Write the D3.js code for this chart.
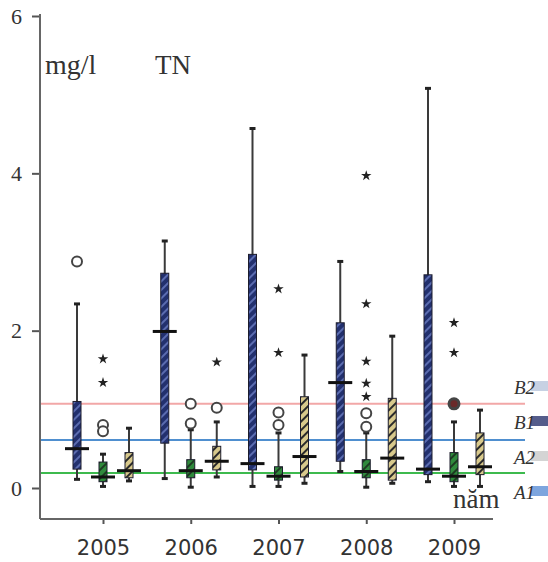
<!DOCTYPE html>
<html>
<head>
<meta charset="utf-8">
<script src="https://cdn.jsdelivr.net/npm/d3@7"></script>
<style>
  body { margin: 0; background: #fff; }
  svg { display: block; }
</style>
</head>
<body>
<svg id="tn-svg" width="548" height="562"></svg>
<script>
// years on the x axis
const years = ['2005', '2006', '2007', '2008', '2009'];
// three box series per year
const seriesNames = ['blue', 'green', 'yellow'];

// [lower whisker, q1, median, q3, upper whisker] in mg/l
const blueStats = [
    [0.11, 0.24, 0.50, 1.10, 2.34],
    [0.12, 0.57, 1.99, 2.73, 3.14],
    [0.02, 0.23, 0.31, 2.97, 4.57],
    [0.21, 0.34, 1.34, 2.10, 2.88],
    [0.08, 0.17, 0.24, 2.71, 5.08]
];
const greenStats = [
    [0.02, 0.08, 0.14, 0.33, 0.43],
    [0.01, 0.13, 0.22, 0.36, 0.74],
    [0.02, 0.10, 0.15, 0.27, 0.70],
    [0.01, 0.13, 0.21, 0.36, 0.70],
    [0.02, 0.08, 0.15, 0.45, 0.84]
];
const yellowStats = [
    [0.09, 0.13, 0.22, 0.45, 0.76],
    [0.14, 0.23, 0.34, 0.53, 0.84],
    [0.06, 0.14, 0.40, 1.16, 1.69],
    [0.06, 0.10, 0.38, 1.14, 1.93],
    [0.02, 0.17, 0.27, 0.70, 0.99]
];

// outliers: circles (o) and extremes (*)
const outliers = [
    {year: '2005', series: 'blue', value: 2.88, type: 'o'},
    {year: '2005', series: 'green', value: 0.80, type: 'o'},
    {year: '2005', series: 'green', value: 0.72, type: 'o'},
    {year: '2005', series: 'green', value: 1.64, type: '*'},
    {year: '2005', series: 'green', value: 1.34, type: '*'},
    {year: '2006', series: 'green', value: 1.07, type: 'o'},
    {year: '2006', series: 'green', value: 0.82, type: 'o'},
    {year: '2006', series: 'yellow', value: 1.60, type: '*'},
    {year: '2006', series: 'yellow', value: 1.02, type: 'o'},
    {year: '2007', series: 'green', value: 2.53, type: '*'},
    {year: '2007', series: 'green', value: 1.72, type: '*'},
    {year: '2007', series: 'green', value: 0.96, type: 'o'},
    {year: '2007', series: 'green', value: 0.80, type: 'o'},
    {year: '2008', series: 'green', value: 3.97, type: '*'},
    {year: '2008', series: 'green', value: 2.34, type: '*'},
    {year: '2008', series: 'green', value: 1.61, type: '*'},
    {year: '2008', series: 'green', value: 1.33, type: '*'},
    {year: '2008', series: 'green', value: 1.16, type: '*'},
    {year: '2008', series: 'green', value: 0.95, type: 'o'},
    {year: '2008', series: 'green', value: 0.78, type: 'o'},
    {year: '2009', series: 'green', value: 2.10, type: '*'},
    {year: '2009', series: 'green', value: 1.72, type: '*'},
    {year: '2009', series: 'green', value: 1.07, type: 'O'}
];

// standard lines
const limitValues = [1.07, 0.61, 0.19];
const limitColors = ['#f2a7a7', '#4f8fcf', '#3dba4e'];

// legend labels on the right
const legendLabels = ['B2', 'B1', 'A2', 'A1'];
const legendColors = ['#b9c6dc', '#2b356e', '#c9c9c9', '#5d8fd6'];

const yTicks = [0, 2, 4, 6];

const statsBySeries = {blue: blueStats, green: greenStats, yellow: yellowStats};

const svg = d3.select('#tn-svg');

// patterns for the box fills
const defs = svg.append('defs');
function hatch(id, base, stripe, w) {
    const p = defs.append('pattern')
        .attr('id', id)
        .attr('patternUnits', 'userSpaceOnUse')
        .attr('width', 6).attr('height', 6)
        .attr('patternTransform', 'rotate(45)');
    p.append('rect').attr('width', 6).attr('height', 6).attr('fill', base);
    p.append('rect').attr('width', w).attr('height', 6).attr('fill', stripe);
}
hatch('pat-blue', '#22306e', '#5b6cb0', 2);
hatch('pat-green', '#2f8a3c', '#1d3b22', 2);
hatch('pat-yellow', '#d8c98c', '#2a2a2a', 2);
const fills = {blue: 'url(#pat-blue)', green: 'url(#pat-green)', yellow: 'url(#pat-yellow)'};

// scales
const yScale = d3.scaleLinear().domain([0, 6]).range([488, 16]);
const xScale = d3.scalePoint().domain(years).range([103, 454]);
const sScale = d3.scalePoint().domain(seriesNames).range([-26, 26]);

const AXIS_X = 40, AXIS_Y = 519;

// reference lines
svg.append('g').selectAll('line')
    .data(limitValues)
    .enter()
    .append('line')
    .attr('x1', AXIS_X).attr('x2', 525)
    .attr('y1', (d) => yScale(d)).attr('y2', (d) => yScale(d))
    .attr('stroke', (d, i) => limitColors[i])
    .attr('stroke-width', 2);

// y axis ticks
const yAxis = svg.append('g')
    .attr('transform', `translate(${AXIS_X}, 0)`)
    .call(d3.axisLeft(yScale).tickValues(yTicks).tickSize(8).tickPadding(10).tickFormat(d3.format('d')));
yAxis.select('.domain').remove();
yAxis.selectAll('line').attr('stroke', '#555').attr('stroke-width', 2);
yAxis.selectAll('text')
    .style('font-family', 'Liberation Serif')
    .style('font-size', '22px')
    .attr('fill', '#333');

// x axis ticks
const xAxis = svg.append('g')
    .attr('transform', `translate(0, ${AXIS_Y})`)
    .call(d3.axisBottom(xScale).tickSize(5));
xAxis.select('.domain').remove();
xAxis.selectAll('line').attr('stroke', '#555').attr('stroke-width', 2);
xAxis.selectAll('text')
    .attr('y', 36).attr('dy', 0)
    .style('font-family', 'DejaVu Sans')
    .style('font-size', '21px')
    .attr('fill', '#333');

// frame lines
svg.append('line').attr('x1', AXIS_X).attr('x2', AXIS_X).attr('y1', 14).attr('y2', AXIS_Y)
    .attr('stroke', '#666').attr('stroke-width', 2);
svg.append('line').attr('x1', AXIS_X).attr('x2', 493).attr('y1', AXIS_Y).attr('y2', AXIS_Y)
    .attr('stroke', '#666').attr('stroke-width', 2);

// build box rows
let boxes = [];
seriesNames.forEach((s) => {
    years.forEach((y, i) => {
        const st = statsBySeries[s][i];
        boxes.push({year: y, series: s, lo: st[0], q1: st[1], med: st[2], q3: st[3], hi: st[4]});
    });
});

const bx = (d) => xScale(d.year) + sScale(d.series);
const BOX_W = 8;

const chart = svg.append('g');

// whiskers
chart.selectAll('line.whisker')
    .data(boxes)
    .enter()
    .append('line')
    .attr('class', 'whisker')
    .attr('x1', bx).attr('x2', bx)
    .attr('y1', (d) => yScale(d.lo)).attr('y2', (d) => yScale(d.hi))
    .attr('stroke', '#3a3a3a').attr('stroke-width', 2);

// whisker caps
['lo', 'hi'].forEach((k) => {
    chart.selectAll('line.cap-' + k)
        .data(boxes)
        .enter()
        .append('line')
        .attr('class', 'cap-' + k)
        .attr('x1', (d) => bx(d) - 3).attr('x2', (d) => bx(d) + 3)
        .attr('y1', (d) => yScale(d[k])).attr('y2', (d) => yScale(d[k]))
        .attr('stroke', '#222').attr('stroke-width', 3);
});

// boxes
chart.selectAll('rect.box')
    .data(boxes)
    .enter()
    .append('rect')
    .attr('class', 'box')
    .attr('x', (d) => bx(d) - BOX_W / 2)
    .attr('width', BOX_W)
    .attr('y', (d) => yScale(d.q3))
    .attr('height', (d) => yScale(d.q1) - yScale(d.q3))
    .attr('fill', (d) => fills[d.series])
    .attr('stroke', '#1c1c2c').attr('stroke-width', 1);

// medians
chart.selectAll('line.median')
    .data(boxes)
    .enter()
    .append('line')
    .attr('class', 'median')
    .attr('x1', (d) => bx(d) - 12).attr('x2', (d) => bx(d) + 12)
    .attr('y1', (d) => yScale(d.med)).attr('y2', (d) => yScale(d.med))
    .attr('stroke', '#111').attr('stroke-width', 3);

// outliers
const ox = (d) => xScale(d.year) + sScale(d.series);
chart.selectAll('circle.out')
    .data(outliers.filter((d) => d.type !== '*'))
    .enter()
    .append('circle')
    .attr('class', 'out')
    .attr('cx', ox).attr('cy', (d) => yScale(d.value))
    .attr('r', 5)
    .attr('fill', (d) => d.type === 'O' ? '#6a2a2a' : '#fff')
    .attr('stroke', '#444')
    .attr('stroke-width', (d) => d.type === 'O' ? 3 : 2);

const star = d3.symbol().type(d3.symbolStar).size(34);
chart.selectAll('path.star')
    .data(outliers.filter((d) => d.type === '*'))
    .enter()
    .append('path')
    .attr('class', 'star')
    .attr('transform', (d) => `translate(${ox(d)}, ${yScale(d.value)})`)
    .attr('d', star)
    .attr('fill', '#222');

// titles
svg.append('text').attr('x', 45).attr('y', 74).text('mg/l')
    .style('font-family', 'Liberation Serif').style('font-size', '28px').attr('fill', '#333');
svg.append('text').attr('x', 155).attr('y', 74).text('TN')
    .style('font-family', 'Liberation Serif').style('font-size', '27px').attr('fill', '#333');
svg.append('text').attr('x', 453).attr('y', 508).text('năm')
    .style('font-family', 'Liberation Serif').style('font-size', '27px').attr('fill', '#333');

// legend (cut off at right edge)
const legend = svg.append('g');
legend.selectAll('rect')
    .data(legendLabels)
    .enter()
    .append('rect')
    .attr('x', 531).attr('y', (d, i) => 381 + i * 35)
    .attr('width', 18).attr('height', 10)
    .attr('fill', (d, i) => legendColors[i])
    .attr('opacity', 0.8);
legend.selectAll('text')
    .data(legendLabels)
    .enter()
    .append('text')
    .attr('x', 514).attr('y', (d, i) => 394 + i * 35)
    .text((d) => d)
    .style('font-family', 'Liberation Serif').style('font-style', 'italic')
    .style('font-size', '19px').attr('fill', '#333');
</script>
</body>
</html>
